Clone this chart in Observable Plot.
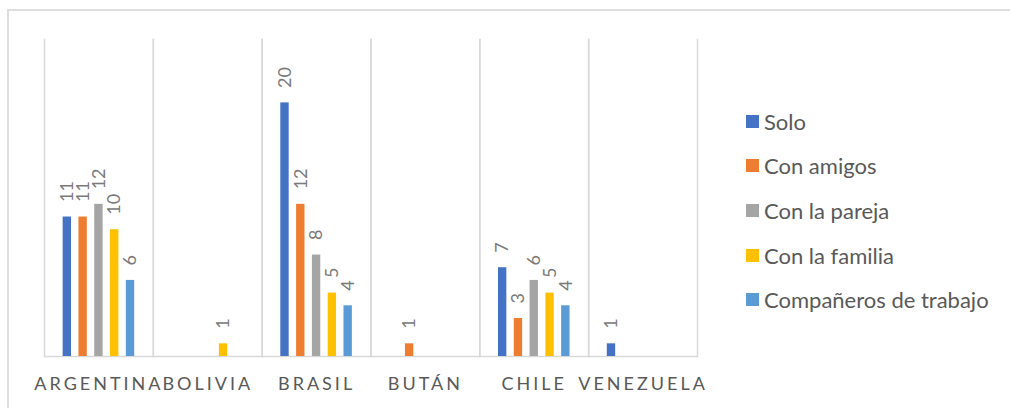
<!DOCTYPE html>
<html>
<head>
<meta charset="utf-8">
<script src="https://cdn.jsdelivr.net/npm/d3@7"></script>
<script src="https://cdn.jsdelivr.net/npm/@observablehq/plot@0.6"></script>
<style>
  body { margin: 0; background: #fff; overflow: hidden; font-family: Lato, sans-serif; }
  #wrap { position: relative; width: 1010px; height: 408px; overflow: hidden; }
  #border { position: absolute; left: 7px; top: 9px; width: 1100px; height: 500px;
            border: 2px solid #dedede; box-sizing: border-box; }
  #chart { position: absolute; left: 0; top: 0; }
  #legend { position: absolute; left: 746px; top: 99px; }
  .row { display: flex; align-items: center; height: 44.6px; font-size: 22px; color: #595959; white-space: nowrap; }
  .sw { width: 13px; height: 13px; margin-right: 5px; flex: none; }
  [aria-label="fx-axis tick label"] text { letter-spacing: 3px; }
</style>
</head>
<body>
<div id="wrap">
  <div id="border"></div>
  <div id="chart"></div>
  <div id="legend"></div>
</div>
<script>
// Countries and companion types
const countries = ["ARGENTINA", "BOLIVIA", "BRASIL", "BUTÁN", "CHILE", "VENEZUELA"];
const series = ["Solo", "Con amigos", "Con la pareja", "Con la familia", "Compañeros de trabajo"];

// Counts per country, one array per companion type
const solo       = [11, 0, 20, 0, 7, 1];
const conAmigos  = [11, 0, 12, 1, 3, 0];
const conPareja  = [12, 0,  8, 0, 6, 0];
const conFamilia = [10, 1,  5, 0, 5, 0];
const companeros = [ 6, 0,  4, 0, 4, 0];

const colors = ["#4472C4", "#ED7D31", "#A5A5A5", "#FFC000", "#5B9BD5"];

const valuesBySeries = [solo, conAmigos, conPareja, conFamilia, companeros];
const rows = [];
countries.forEach((country, i) => {
  series.forEach((s, j) => rows.push({country, series: s, value: valuesBySeries[j][i]}));
});
const nonZero = rows.filter(d => d.value > 0);

const chart = Plot.plot({
  width: 720,
  height: 408,
  marginLeft: 44,
  marginRight: 23,
  marginTop: 39,
  marginBottom: 52,
  style: {fontFamily: "Lato, sans-serif", background: "transparent", overflow: "visible"},
  fx: {domain: countries, padding: 0, round: false, label: null},
  x: {domain: series, paddingInner: 0.47, paddingOuter: 1.18, round: false, axis: null},
  y: {domain: [0, 25], axis: null},
  color: {domain: series, range: colors},
  marks: [
    Plot.frame({anchor: "left", stroke: "#d9d9d9", strokeWidth: 1.5}),
    Plot.frame({anchor: "right", stroke: "#d9d9d9", strokeWidth: 1.5}),
    Plot.ruleY([0], {stroke: "#d9d9d9", strokeWidth: 1.5}),
    Plot.barY(rows, {fx: "country", x: "series", y: "value", fill: "series"}),
    Plot.text(nonZero, {
      fx: "country", x: "series", y: "value", text: d => String(d.value),
      rotate: -90, textAnchor: "start", dy: -15, fill: "#7a7a7a", fontSize: 18
    }),
    Plot.axisFx({anchor: "bottom", tickSize: 0, tickPadding: 21, fontSize: 18, fill: "#595959", label: null})
  ]
});
document.getElementById("chart").appendChild(chart);

// Vertical legend drawn from the chart's color scale
const color = chart.scale("color");
const legend = d3.select("#legend");
color.domain.forEach((name, i) => {
  const row = legend.append("div").attr("class", "row");
  row.append("div").attr("class", "sw").style("background", color.range[i]);
  row.append("span").text(name);
});
</script>
</body>
</html>
